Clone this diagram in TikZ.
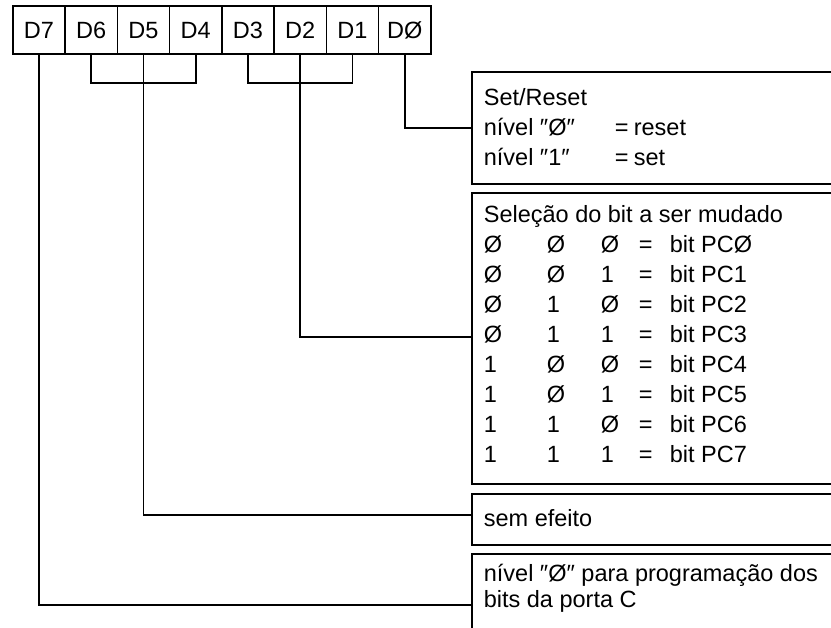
\documentclass[tikz,border=0pt]{standalone}
\usepackage{fontspec}
\setmainfont{Liberation Sans}
\usepackage{array}
\newcommand{\bigfont}[1]{\fontsize{23.5}{#1}\selectfont}
\begin{document}
\begin{tikzpicture}[x=1pt,y=-1pt,
  line width=1.7pt,
  reg/.style={draw, rectangle, minimum width=52.25pt, minimum height=48pt,
    inner sep=0pt, anchor=north west, font=\bigfont{26}, text height=17pt, text depth=0pt},
  frame/.style={rectangle, inner sep=0pt, anchor=north west, minimum width=360pt},
  txt/.style={inner sep=0pt, anchor=base west, align=left}]
\useasboundingbox (0,0) rectangle (831,628);

% register
\node[reg] (d7) at (12,5) {D7};
\node[reg] (d6) at (64.25,5) {D6};
\node[reg] (d5) at (116.5,5) {D5};
\node[reg] (d4) at (168.75,5) {D4};
\node[reg] (d3) at (221,5) {D3};
\node[reg] (d2) at (273.25,5) {D2};
\node[reg] (d1) at (325.5,5) {D1};
\node[reg] (d0) at (377.75,5) {DØ};

% brackets
\coordinate (brk) at (0,83);
\draw (d6.south) -- (d6.south |- brk) -- (d4.south |- brk) -- (d4.south);
\draw (d3.south) -- (d3.south |- brk) -- (d1.south |- brk) -- (d1.south);

% frames
\node[frame, minimum height=110pt] (setbox) at (472,72) {};
\node[frame, minimum height=289pt] (selbox) at (472,193) {};
\node[frame, minimum height=49pt] (sembox) at (472,494) {};
\node[frame, minimum height=73pt] (lastbox) at (472,554) {};
\foreach \b in {setbox,selbox,sembox,lastbox}{
  \draw (\b.north east) -- (\b.north west) -- (\b.south west) -- (\b.south east);
}

% texts
\node[txt] (settxt) at (483,106) {\bigfont{30}%
  \begin{tabular}[t]{@{}p{131pt}@{}p{19pt}@{}l@{}}
  \multicolumn{3}{@{}l@{}}{Set/Reset}\\
  nível ″Ø″ & = & reset\\
  nível ″1″ & = & set
  \end{tabular}};

\node[txt] (seltxt) at (483,223) {\bigfont{30}%
  \begin{tabular}[t]{@{}p{63pt}@{}p{54pt}@{}p{38pt}@{}p{31pt}@{}l@{}}
  \multicolumn{5}{@{}l@{}}{Seleção do bit a ser mudado}\\
  Ø & Ø & Ø & = & bit PCØ\\
  Ø & Ø & 1 & = & bit PC1\\
  Ø & 1 & Ø & = & bit PC2\\
  Ø & 1 & 1 & = & bit PC3\\
  1 & Ø & Ø & = & bit PC4\\
  1 & Ø & 1 & = & bit PC5\\
  1 & 1 & Ø & = & bit PC6\\
  1 & 1 & 1 & = & bit PC7
  \end{tabular}};

\node[txt] (semtxt) at (483,526) {\bigfont{26}sem efeito};

\node[txt] (lasttxt) at (483,581) {\bigfont{26}%
  \begin{tabular}[t]{@{}l@{}}
  nível ″Ø″ para programação dos\\
  bits da porta C
  \end{tabular}};

% connectors
\coordinate (y0) at (0,128);
\coordinate (y2) at (0,337);
\coordinate (y5) at (0,515);
\coordinate (y7) at (0,605);
\draw (d0.south) |- (setbox.west |- y0);
\draw (d2.south) |- (selbox.west |- y2);
\draw (d5.south) |- (sembox.west |- y5);
\draw (d7.south) |- (lastbox.west |- y7);
\end{tikzpicture}
\end{document}
